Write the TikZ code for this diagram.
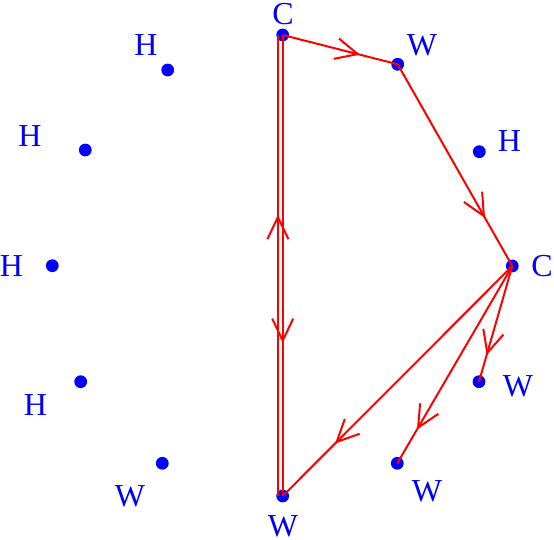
\documentclass[tikz,border=0pt]{standalone}
\usepackage{fontspec}
\setmainfont{Liberation Serif}
\usetikzlibrary{arrows.meta,decorations.markings}
\tikzset{
  dot/.style={circle,fill=blue,inner sep=0pt,minimum size=6.4pt},
  lab/.style={text=blue,inner sep=0pt,font=\fontsize{16}{18}\selectfont},
  edge/.style={red,line width=1pt},
  midarrow/.style={postaction={decorate},decoration={markings,
    mark=at position #1 with {\arrow{Straight Barb[length=11pt,width=10.5pt]}}}}
}
\begin{document}
\begin{tikzpicture}[x=0.5pt,y=-0.5pt]
  \useasboundingbox (0,0) rectangle (554,540);
  % points round the ring, with their letters
  \foreach \i/\t/\px/\py/\lx/\ly in {0/C/282.7/35/283/14, 1/W/397.7/64.3/422/45,
      2/H/479.3/151.7/509.5/141, 3/C/512.3/266/542/266, 4/W/479/381.7/518/386,
      5/W/397.3/463.3/427/491, 6/W/282.7/496/283/526, 7/W/162.3/463.3/130/496,
      8/H/80.7/381.7/35.5/405.5, 9/H/52.3/265.7/11.5/266, 10/H/85.3/150/30/136,
      11/H/167.7/70/146/45}
  {
    \node[dot] (p\i) at (\px,\py) {};
    \node[lab] (l\i) at (\lx,\ly) {\t};
  }
  % directed edges
  \draw[edge,midarrow=0.672] (p0.center) -- (p1.center);
  \draw[edge,midarrow=0.762] (p1.center) -- (p3.center);
  \draw[edge,midarrow=0.77] (p3.center) -- (p4.center);
  \draw[edge,midarrow=0.83] (p3.center) -- (p5.center);
  \draw[edge,midarrow=0.772] (p3.center) -- (p6.center);
  % the double edge
  \draw[edge,midarrow=0.668] (p0.center) -- (p6.center);
  \draw[edge,midarrow=0.61,transform canvas={xshift=-2.4pt}] (p6.center) -- (p0.center);
\end{tikzpicture}
\end{document}
